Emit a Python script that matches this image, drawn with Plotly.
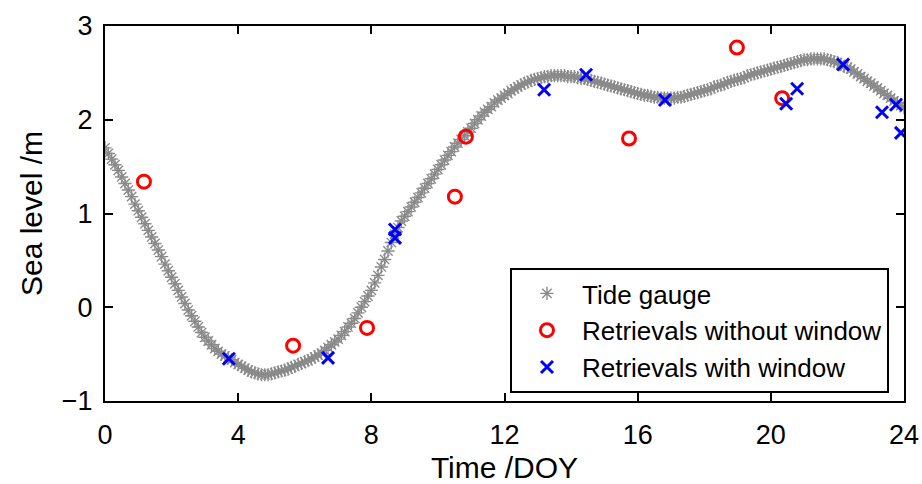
import plotly.graph_objects as go

# Tide gauge (DOY, sea level m), read every 0.1 DOY
tide_start = 0.0
tide_step = 0.1
tide_level = [
    1.70, 1.64, 1.58, 1.52, 1.46, 1.39, 1.32, 1.25, 1.18, 1.10,
    1.03, 0.96, 0.89, 0.82, 0.75, 0.68, 0.61, 0.54, 0.46, 0.39,
    0.32, 0.25, 0.18, 0.11, 0.04, -0.03, -0.09, -0.15, -0.21, -0.27,
    -0.32, -0.36, -0.40, -0.44, -0.47, -0.50, -0.52, -0.54, -0.56, -0.59,
    -0.61, -0.63, -0.65, -0.67, -0.69, -0.70, -0.71, -0.72, -0.72, -0.72,
    -0.71, -0.70, -0.69, -0.68, -0.67, -0.66, -0.64, -0.63, -0.61, -0.60,
    -0.58, -0.57, -0.55, -0.53, -0.51, -0.49, -0.46, -0.43, -0.40, -0.37,
    -0.34, -0.30, -0.26, -0.21, -0.17, -0.12, -0.06, 0.00, 0.06, 0.12,
    0.18, 0.26, 0.34, 0.43, 0.51, 0.60, 0.69, 0.78, 0.85, 0.92,
    0.97, 1.02, 1.07, 1.12, 1.17, 1.22, 1.27, 1.32, 1.37, 1.42,
    1.47, 1.52, 1.57, 1.62, 1.66, 1.71, 1.75, 1.79, 1.83, 1.87,
    1.91, 1.96, 2.00, 2.04, 2.08, 2.11, 2.14, 2.18, 2.21, 2.23,
    2.26, 2.28, 2.31, 2.33, 2.35, 2.37, 2.39, 2.40, 2.42, 2.43,
    2.44, 2.45, 2.46, 2.46, 2.47, 2.47, 2.47, 2.47, 2.47, 2.46,
    2.46, 2.46, 2.45, 2.44, 2.44, 2.43, 2.42, 2.41, 2.40, 2.39,
    2.38, 2.37, 2.36, 2.35, 2.34, 2.33, 2.32, 2.31, 2.30, 2.29,
    2.28, 2.27, 2.26, 2.26, 2.25, 2.24, 2.24, 2.23, 2.23, 2.23,
    2.23, 2.23, 2.24, 2.24, 2.25, 2.26, 2.27, 2.28, 2.29, 2.30,
    2.31, 2.32, 2.33, 2.35, 2.36, 2.37, 2.38, 2.40, 2.41, 2.42,
    2.43, 2.44, 2.45, 2.47, 2.48, 2.49, 2.50, 2.51, 2.52, 2.53,
    2.54, 2.55, 2.56, 2.57, 2.58, 2.59, 2.60, 2.61, 2.62, 2.63,
    2.64, 2.64, 2.65, 2.65, 2.65, 2.65, 2.65, 2.64, 2.63, 2.62,
    2.61, 2.59, 2.57, 2.56, 2.54, 2.51, 2.49, 2.46, 2.44, 2.41,
    2.39, 2.36, 2.34, 2.31, 2.28, 2.26, 2.23, 2.20, 2.18, 2.15,
    2.13,
]
tide_doy = [round(tide_start + i * tide_step, 2) for i in range(len(tide_level))]

# Retrievals without window
nowin_doy = [1.17, 5.65, 7.87, 10.51, 10.84, 15.74, 18.98, 20.34]
nowin_level = [1.34, -0.41, -0.22, 1.18, 1.82, 1.80, 2.77, 2.23]

# Retrievals with window
win_doy = [3.72, 6.70, 8.71, 8.71, 13.19, 14.45, 16.82, 20.46, 20.79, 22.17, 23.34, 23.76, 23.91]
win_level = [-0.55, -0.54, 0.83, 0.74, 2.32, 2.48, 2.21, 2.17, 2.33, 2.59, 2.08, 2.16, 1.86]

x_ticks = [0, 4, 8, 12, 16, 20, 24]
y_ticks = [-1, 0, 1, 2, 3]

FONT = "Liberation Sans, Arial, Helvetica, sans-serif"

fig = go.Figure()
fig.add_trace(go.Scatter(
    x=tide_doy, y=tide_level, mode="markers", name="Tide gauge",
    marker=dict(symbol="asterisk-open", size=11, color="#8a8a8a",
                line=dict(color="#8a8a8a", width=1.4)),
))
fig.add_trace(go.Scatter(
    x=nowin_doy, y=nowin_level, mode="markers", name="Retrievals without window",
    marker=dict(symbol="circle-open", size=13, color="#ff0000",
                line=dict(color="#ff0000", width=3)),
))
fig.add_trace(go.Scatter(
    x=win_doy, y=win_level, mode="markers", name="Retrievals with window",
    marker=dict(symbol="x-thin-open", size=12, color="#0000ff",
                line=dict(color="#0000ff", width=3)),
))

axis_common = dict(
    showline=True, linecolor="black", linewidth=2, mirror="ticks",
    ticks="inside", ticklen=8, tickwidth=2, tickcolor="black",
    showgrid=False, zeroline=False, automargin=False,
    tickfont=dict(family=FONT, size=27, color="black"),
)

fig.update_layout(
    width=922, height=484,
    margin=dict(l=105, r=18, t=26, b=83),
    paper_bgcolor="white", plot_bgcolor="white",
    font=dict(family=FONT, color="black"),
    xaxis=dict(range=[0, 24], tickvals=x_ticks,
               title=dict(text="Time /DOY", font=dict(family=FONT, size=30), standoff=11),
               ticklabelstandoff=9, **axis_common),
    yaxis=dict(range=[-1, 3], tickvals=y_ticks,
               title=dict(text="Sea level /m", font=dict(family=FONT, size=30), standoff=10),
               ticklabelstandoff=5, **axis_common),
    legend=dict(
        x=0.9812, y=0.0213, xanchor="right", yanchor="bottom",
        bgcolor="white", bordercolor="black", borderwidth=2,
        font=dict(family=FONT, size=26, color="black"),
        itemwidth=60, tracegroupgap=0,
    ),
)

fig.write_html(
    "out.html",
    config={"displayModeBar": False},
    post_script="document.body.style.margin='0';document.body.style.padding='0';",
)
